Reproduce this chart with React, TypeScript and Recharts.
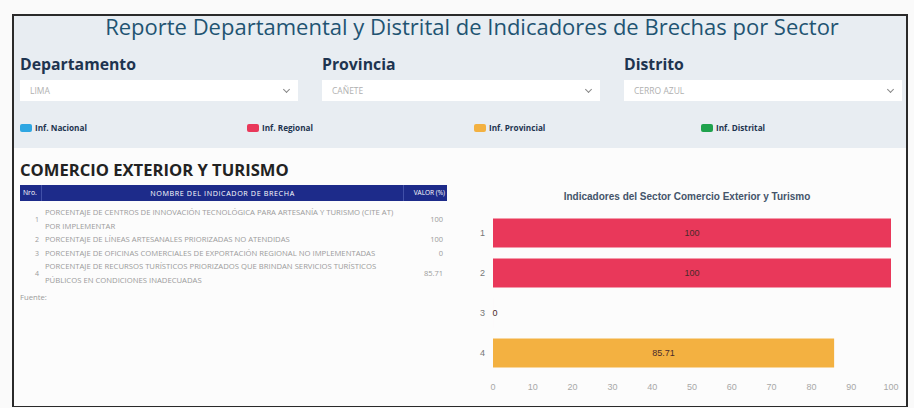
import React from 'react';
import { BarChart, Bar, XAxis, YAxis, Cell, LabelList } from 'recharts';

// filtros
const filtroLabels = ['Departamento', 'Provincia', 'Distrito'];
const filtroValores = ['LIMA', 'CAÑETE', 'CERRO AZUL'];

// leyenda de niveles
const leyendaLabels = ['Inf. Nacional', 'Inf. Regional', 'Inf. Provincial', 'Inf. Distrital'];
const leyendaKeys = ['nacional', 'regional', 'provincial', 'distrital'];

// indicadores del sector
const nros = ['1', '2', '3', '4'];
const indicadores = [
  ['PORCENTAJE DE CENTROS DE INNOVACIÓN TECNOLÓGICA PARA ARTESANÍA Y TURISMO (CITE AT)', 'POR IMPLEMENTAR'],
  ['PORCENTAJE DE LÍNEAS ARTESANALES PRIORIZADAS NO ATENDIDAS'],
  ['PORCENTAJE DE OFICINAS COMERCIALES DE EXPORTACIÓN REGIONAL NO IMPLEMENTADAS'],
  ['PORCENTAJE DE RECURSOS TURÍSTICOS PRIORIZADOS QUE BRINDAN SERVICIOS TURÍSTICOS', 'PÚBLICOS EN CONDICIONES INADECUADAS'],
];
const valores = [100, 100, 0, 85.71];
const niveles = ['regional', 'regional', 'regional', 'provincial'];
const xTicks = [0, 10, 20, 30, 40, 50, 60, 70, 80, 90, 100];

const COLORS: Record<string, string> = {
  nacional: '#2ea6e2',
  regional: '#e9385a',
  provincial: '#f3b141',
  distrital: '#1fa24d',
};

const NAVY = '#1e3450';
const FONT = '"Open Sans", "Noto Sans", sans-serif';
const CHART_FONT = '"Liberation Sans", Arial, sans-serif';

const chartData = nros.map((n, i) => ({ nro: n, valor: valores[i], nivel: niveles[i] }));

function Select({ value }: { value: string }) {
  return (
    <div style={{ width: 278, height: 21, background: '#fff', position: 'relative', marginTop: 5 }}>
      <span style={{ position: 'absolute', left: 10, top: 5, fontSize: 8.5, color: '#b0b0b0', lineHeight: '11px' }}>
        {value}
      </span>
      <div style={{
        position: 'absolute', right: 9, top: 7, width: 4, height: 4,
        borderRight: '1px solid #888', borderBottom: '1px solid #888', transform: 'rotate(45deg)',
      }} />
    </div>
  );
}

// etiqueta centrada en la barra, también para valor 0
function ValueLabel(props: any) {
  const { x, y, width, height, value } = props;
  return (
    <text
      x={Number(x) + Number(width) / 2 + (Number(width) < 1 ? 2 : 0)}
      y={Number(y) + Number(height) / 2}
      textAnchor="middle"
      dominantBaseline="central"
      fontSize={9}
      fill="#4a2a2a"
      fontFamily={CHART_FONT}
    >
      {value}
    </text>
  );
}

export default function App() {
  return (
    <div style={{ position: 'absolute', left: 0, top: 0, width: 914, height: 408, background: '#fafafa', fontFamily: FONT, overflow: 'hidden' }}>
      {/* marco */}
      <div style={{ position: 'absolute', left: 12, top: 14, width: 896, height: 393, border: '2px solid #2a2a2a', borderBottomWidth: 1, background: '#fcfcfc', boxSizing: 'border-box' }} />

      {/* cabecera */}
      <div style={{ position: 'absolute', left: 14, top: 16, width: 892, height: 132, background: '#e8edf2' }} />
      <div style={{ position: 'absolute', left: 26, top: 11, width: 892, textAlign: 'center', fontSize: 22, color: '#1f5472', lineHeight: '30px' }}>
        Reporte Departamental y Distrital de Indicadores de Brechas por Sector
      </div>

      {filtroLabels.map((l, i) => (
        <div key={l} style={{ position: 'absolute', left: 20 + i * 302, top: 53 }}>
          <div style={{ fontSize: 15.8, fontWeight: 700, color: NAVY, lineHeight: '22px' }}>{l}</div>
          <Select value={filtroValores[i]} />
        </div>
      ))}

      {leyendaLabels.map((l, i) => (
        <div key={l} style={{ position: 'absolute', left: 20 + i * 227, top: 122, display: 'flex', alignItems: 'center' }}>
          <div style={{ width: 12, height: 8, borderRadius: 2, background: COLORS[leyendaKeys[i]], marginRight: 3 }} />
          <span style={{ fontSize: 8.2, fontWeight: 700, color: NAVY, lineHeight: '12px' }}>{l}</span>
        </div>
      ))}

      {/* sector */}
      <div style={{ position: 'absolute', left: 20, top: 159, fontSize: 16.6, fontWeight: 700, color: '#222', lineHeight: '22px' }}>
        COMERCIO EXTERIOR Y TURISMO
      </div>

      {/* tabla */}
      <div style={{ position: 'absolute', left: 20, top: 185, width: 427, fontSize: 7.7, color: '#9b9b9b' }}>
        <div style={{ display: 'flex', height: 16, background: '#1d2b8a', color: '#fff', alignItems: 'center', fontSize: 7.2 }}>
          <div style={{ width: 22, paddingLeft: 3, boxSizing: 'border-box', borderRight: '1px solid #4150a8', height: 16, lineHeight: '16px', fontSize: 6.8 }}>Nro.</div>
          <div style={{ width: 361, textAlign: 'center', letterSpacing: 0.6 }}>NOMBRE DEL INDICADOR DE BRECHA</div>
          <div style={{ width: 44, textAlign: 'right', paddingRight: 2, boxSizing: 'border-box', borderLeft: '1px solid #4150a8', height: 16, lineHeight: '16px', fontSize: 6.5 }}>VALOR (%)</div>
        </div>
        {nros.map((n, i) => (
          <div key={n} style={{ display: 'flex', alignItems: 'center', paddingTop: i === 0 ? 5 : 0, lineHeight: '13.5px' }}>
            <div style={{ width: 22, textAlign: 'right', paddingRight: 3, boxSizing: 'border-box', fontSize: 7 }}>{n}</div>
            <div style={{ width: 361, paddingLeft: 3, boxSizing: 'border-box', whiteSpace: 'nowrap' }}>
              {indicadores[i].map((t) => <div key={t}>{t}</div>)}
            </div>
            <div style={{ width: 44, textAlign: 'right', paddingRight: 4, boxSizing: 'border-box', fontSize: 7.5 }}>{valores[i]}</div>
          </div>
        ))}
        <div style={{ paddingTop: 4, lineHeight: '13.5px' }}>Fuente:</div>
      </div>

      {/* grafico */}
      <div style={{ position: 'absolute', left: 460, top: 190, width: 441, textAlign: 'center', fontFamily: CHART_FONT, fontSize: 10, fontWeight: 700, color: '#44546a', lineHeight: '14px', paddingLeft: 13, boxSizing: 'border-box' }}>
        Indicadores del Sector Comercio Exterior y Turismo
      </div>
      <div style={{ position: 'absolute', left: 460, top: 200 }}>
        <BarChart
          width={441}
          height={200}
          data={chartData}
          layout="vertical"
          margin={{ top: 12.5, right: 10, bottom: 0, left: 0 }}
          style={{ fontFamily: CHART_FONT }}
        >
          <XAxis
            type="number"
            domain={[0, 100]}
            ticks={xTicks}
            axisLine={false}
            tickLine={false}
            tickMargin={5}
            height={27.5}
            tick={{ fontSize: 9, fill: '#a8a8a8' }}
          />
          <YAxis
            type="category"
            dataKey="nro"
            width={33}
            axisLine={false}
            tickLine={false}
            tick={{ fontSize: 9, fill: '#777' }}
          />
          <Bar dataKey="valor" barSize={29} minPointSize={0.01} isAnimationActive={false}>
            {chartData.map((d) => (
              <Cell key={d.nro} fill={COLORS[d.nivel]} />
            ))}
            <LabelList dataKey="valor" content={ValueLabel} />
          </Bar>
        </BarChart>
      </div>
    </div>
  );
}
